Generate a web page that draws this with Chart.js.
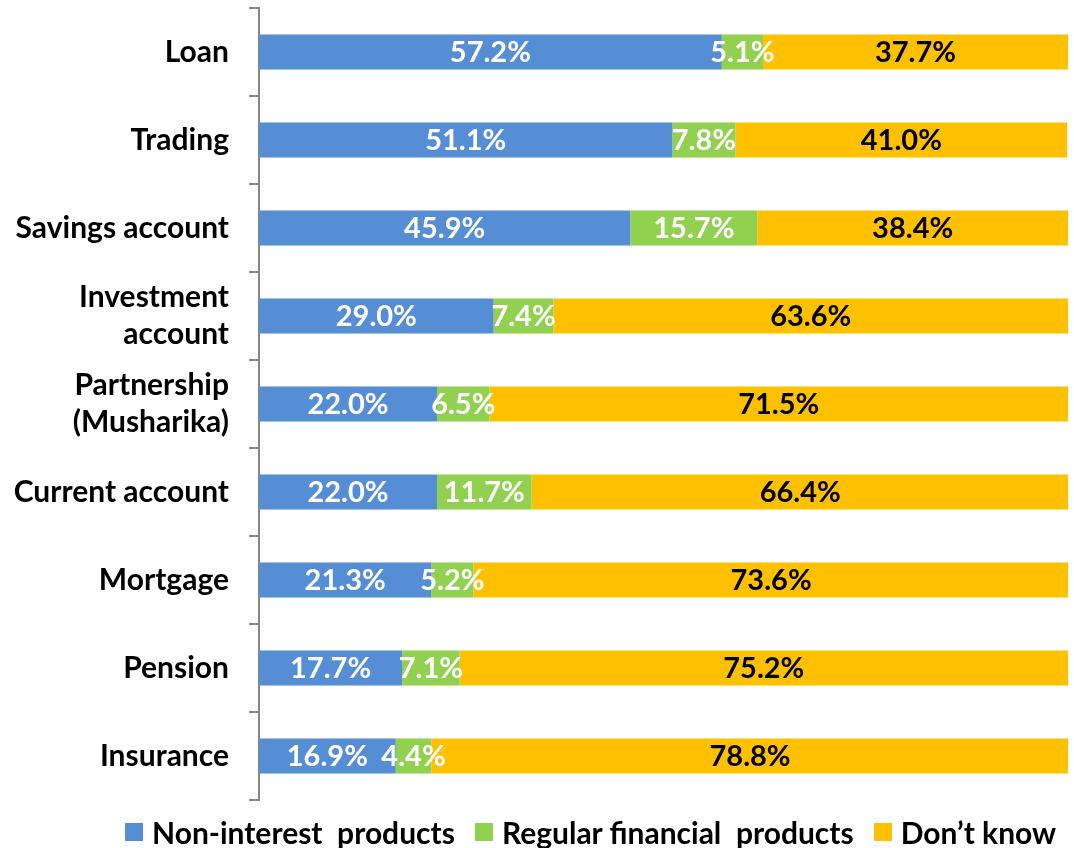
<!DOCTYPE html>
<html>
<head>
<meta charset="utf-8">
<script src="https://cdn.jsdelivr.net/npm/chart.js@4/dist/chart.umd.min.js"></script>
<style>
  html,body{margin:0;padding:0;background:#fff}
  #wrap{position:relative;width:1074px;height:848px}
  #legend{position:absolute;left:125px;top:814px;height:36px;display:flex;align-items:center;font:700 30px Lato;color:#000;white-space:pre}
  #legend .it{display:flex;align-items:center;margin-right:20px}
  #legend .bx{width:18px;height:18px;margin-right:9px}
</style>
</head>
<body>
<div id="wrap">
  <canvas id="c" width="1074" height="848"></canvas>
  <div id="legend"></div>
</div>
<script>
// ─── DATA ────────────────────────────────────────────────────
const categories=['Loan','Trading','Savings account',['Investment','account'],['Partnership','(Musharika)'],'Current account','Mortgage','Pension','Insurance'];
const nonInterest=[57.2,51.1,45.9,29.0,22.0,22.0,21.3,17.7,16.9];
const regular=[5.1,7.8,15.7,7.4,6.5,11.7,5.2,7.1,4.4];
const dontKnow=[37.7,41.0,38.4,63.6,71.5,66.4,73.6,75.2,78.8];
const seriesNames=['Non-interest  products','Regular financial  products','Don\u2019t know'];
const seriesColors=['#558ED5','#92D050','#FFC000'];
const labelColors=['#fff','#fff','#000'];

// ─── SEGMENT LABELS (no datalabels plugin available) ─────────
const segLabels={id:'segLabels',
  afterDatasetsDraw(chart){
    const ctx=chart.ctx;ctx.save();
    ctx.font='700 29px Lato';ctx.textAlign='center';ctx.textBaseline='middle';
    chart.data.datasets.forEach((ds,di)=>{
      const meta=chart.getDatasetMeta(di);
      meta.data.forEach((bar,i)=>{
        const v=ds.data[i];if(v==null)return;
        ctx.fillStyle=labelColors[di];
        ctx.fillText(v.toFixed(1)+'%',(bar.x+bar.base)/2,bar.y+1);
      });
    });
    ctx.restore()}
};

const datasets=[nonInterest,regular,dontKnow].map((d,i)=>({label:seriesNames[i],data:d,backgroundColor:seriesColors[i],borderWidth:0,barPercentage:1,categoryPercentage:0.4}));

new Chart(document.getElementById('c'),{
  type:'bar',
  data:{labels:categories,datasets},
  plugins:[segLabels],
  options:{
    indexAxis:'y',responsive:false,animation:false,
    layout:{padding:{top:8,bottom:48,right:6,left:0}},
    plugins:{legend:{display:false},tooltip:{enabled:false}},
    scales:{
      x:{stacked:true,min:0,max:100,display:false},
      y:{stacked:true,
        afterFit(s){s.width=259;s.paddingTop=0;s.paddingBottom=0},
        border:{display:true,color:'#868686',width:2},
        grid:{display:true,drawOnChartArea:false,drawTicks:true,tickLength:10,color:'#868686',lineWidth:2,offset:true},
        ticks:{color:'#000',padding:20,font:{family:'Lato',size:30,weight:'700',lineHeight:1.25}}
      }
    }
  }
});

// HTML legend
const lg=document.getElementById('legend');
seriesNames.forEach((n,i)=>{
  const it=document.createElement('div');it.className='it';
  const b=document.createElement('div');b.className='bx';b.style.background=seriesColors[i];
  const t=document.createElement('span');t.textContent=n;
  it.appendChild(b);it.appendChild(t);lg.appendChild(it);
});
</script>
</body>
</html>
